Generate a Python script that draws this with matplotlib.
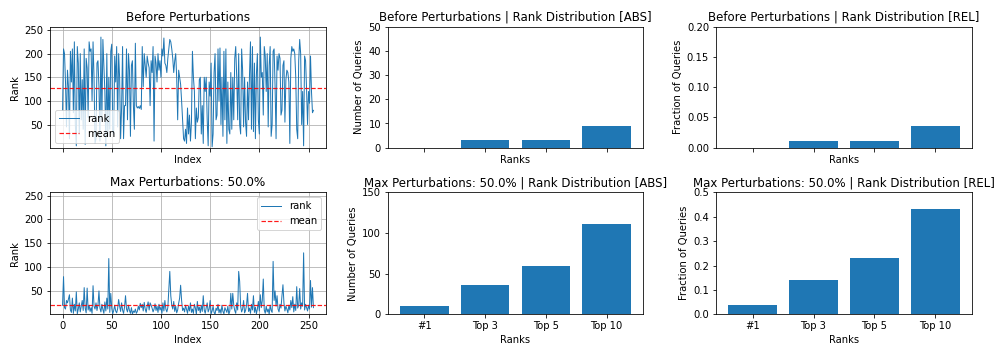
import matplotlib
matplotlib.use("Agg")
import matplotlib.pyplot as plt
import numpy as np

# ---------------- data ----------------
rank_before = [
    80, 210, 200, 140, 45, 165, 130, 20, 205, 140, 210, 75, 225, 50, 5, 215,
    180, 30, 200, 60, 145, 40, 210, 8, 190, 170, 65, 225, 205, 210, 100, 225,
    150, 10, 20, 180, 185, 130, 15, 235, 60, 230, 175, 120, 5, 200, 25, 150,
    40, 205, 220, 35, 30, 195, 140, 215, 45, 200, 150, 20, 85, 215, 20, 90,
    90, 210, 60, 200, 165, 25, 175, 185, 90, 40, 222, 90, 85, 88, 84, 90,
    82, 215, 130, 200, 175, 150, 195, 180, 170, 90, 185, 160, 215, 15, 195, 180,
    140, 200, 165, 185, 150, 210, 195, 233, 180, 175, 160, 190, 210, 230, 225, 210,
    190, 160, 185, 200, 150, 60, 165, 150, 135, 100, 60, 20, 15, 40, 10, 85,
    30, 70, 15, 55, 205, 150, 120, 20, 85, 55, 65, 145, 150, 30, 90, 10,
    150, 120, 150, 60, 5, 140, 110, 180, 3, 30, 160, 200, 60, 70, 210, 100,
    212, 50, 150, 25, 205, 60, 210, 10, 140, 40, 30, 160, 40, 150, 60, 190,
    215, 150, 60, 200, 50, 30, 210, 165, 45, 150, 55, 25, 140, 60, 155, 225,
    40, 215, 35, 180, 20, 155, 200, 60, 30, 235, 150, 160, 70, 215, 195, 120,
    200, 45, 175, 215, 25, 50, 205, 210, 130, 20, 195, 165, 200, 190, 70, 80,
    175, 185, 55, 145, 165, 160, 140, 10, 190, 215, 205, 210, 200, 150, 40, 20,
    185, 230, 200, 50, 120, 5, 195, 185, 125, 50, 120, 95, 195, 120, 75, 80,
]

rank_after = [
    20, 80, 15, 12, 30, 25, 33, 42, 10, 5, 35, 3, 22, 8, 48, 2,
    12, 25, 6, 18, 30, 9, 57, 14, 4, 56, 10, 20, 7, 15, 3, 61,
    18, 12, 25, 9, 20, 50, 14, 6, 22, 11, 3, 27, 8, 35, 12, 118,
    5, 45, 14, 2, 9, 20, 8, 4, 13, 32, 18, 7, 25, 10, 3, 16,
    40, 12, 6, 20, 9, 3, 15, 1, 8, 5, 12, 3, 7, 18, 10, 24,
    15, 22, 8, 26, 12, 5, 18, 27, 10, 25, 20, 14, 6, 12, 23, 9,
    18, 5, 22, 10, 16, 3, 25, 8, 30, 12, 6, 15, 55, 91, 40, 20,
    12, 28, 7, 18, 4, 10, 24, 35, 62, 30, 9, 14, 6, 20, 11, 3,
    18, 8, 25, 5, 12, 3, 22, 14, 1, 28, 9, 16, 4, 20, 7, 40,
    10, 3, 15, 25, 6, 12, 30, 2, 8, 18, 5, 1, 14, 9, 22, 4,
    12, 3, 20, 7, 2, 15, 10, 5, 18, 1, 8, 45, 12, 45, 20, 9,
    3, 25, 10, 91, 70, 18, 6, 12, 30, 4, 9, 20, 45, 7, 14, 3,
    22, 10, 40, 5, 16, 2, 12, 28, 8, 42, 15, 30, 75, 10, 3, 18,
    6, 12, 1, 20, 9, 5, 112, 30, 50, 18, 40, 12, 6, 22, 14, 40,
    63, 25, 8, 18, 12, 4, 20, 10, 30, 15, 38, 6, 22, 9, 59, 14,
    20, 55, 12, 25, 18, 130, 10, 22, 15, 8, 20, 12, 72, 16, 57, 15,
]

categories = ["#1", "Top 3", "Top 5", "Top 10"]
abs_before = [0, 3, 3, 9]
rel_before = [0.0, 0.0117, 0.0117, 0.0352]
abs_after = [10, 36, 59, 111]
rel_after = [0.0391, 0.1406, 0.2305, 0.4336]

# ---------------- figure ----------------
W, H = 997, 356
fig = plt.figure(figsize=(W / 72, H / 72), dpi=72)

def px_axes(x0, x1, y0, y1):
    return fig.add_axes([x0 / W, 1 - y1 / H, (x1 - x0) / W, (y1 - y0) / H])

cols = [(50, 326), (388, 643), (716, 972)]
rows = [(26.7, 147.7), (192.3, 314.3)]

ax_l0 = px_axes(*cols[0], *rows[0])
ax_l1 = px_axes(*cols[0], *rows[1])
ax_m0 = px_axes(*cols[1], *rows[0])
ax_m1 = px_axes(*cols[1], *rows[1])
ax_r0 = px_axes(*cols[2], *rows[0])
ax_r1 = px_axes(*cols[2], *rows[1])

# line plots
for ax, data, title, loc in [
    (ax_l0, rank_before, "Before Perturbations", "lower left"),
    (ax_l1, rank_after, "Max Perturbations: 50.0%", "upper right"),
]:
    idx = np.arange(len(data))
    ax.plot(idx, data, color="C0", lw=1.0, label="rank")
    ax.axhline(np.mean(data), color="red", ls="--", lw=1.2, alpha=0.9, label="mean")
    ax.set_ylim(1, 257)
    ax.set_xlim(-12.75, 267.75)
    ax.set_xticks([0, 50, 100, 150, 200, 250])
    ax.set_yticks([50, 100, 150, 200, 250])
    ax.grid(True, color="#b0b0b0", lw=0.8)
    ax.set_axisbelow(True)
    ax.set_title(title)
    ax.set_ylabel("Rank")
    ax.set_xlabel("Index")
    ax.legend(loc=loc)
ax_l0.tick_params(labelbottom=False)

# bar plots
x = np.arange(len(categories))
bar_specs = [
    (ax_m0, abs_before, "Before Perturbations | Rank Distribution [ABS]", "Number of Queries", (0, 50), [0, 10, 20, 30, 40, 50], None),
    (ax_r0, rel_before, "Before Perturbations | Rank Distribution [REL]", "Fraction of Queries", (0, 0.2), [0, 0.05, 0.10, 0.15, 0.20], "%.2f"),
    (ax_m1, abs_after, "Max Perturbations: 50.0% | Rank Distribution [ABS]", "Number of Queries", (0, 150), [0, 50, 100, 150], None),
    (ax_r1, rel_after, "Max Perturbations: 50.0% | Rank Distribution [REL]", "Fraction of Queries", (0, 0.5), [0, 0.1, 0.2, 0.3, 0.4, 0.5], "%.1f"),
]
for ax, vals, title, ylabel, ylim, yt, fmt in bar_specs:
    ax.bar(x, vals, color="C0", width=0.8)
    ax.set_xlim(-0.6, 3.6)
    ax.set_ylim(*ylim)
    ax.set_yticks(yt)
    if fmt:
        ax.set_yticklabels([fmt % v for v in yt])
    ax.set_xticks(x)
    ax.set_xticklabels(categories)
    ax.set_title(title, fontsize=11.7)
    ax.set_ylabel(ylabel)
    ax.set_xlabel("Ranks")
ax_m0.tick_params(labelbottom=False)
ax_r0.tick_params(labelbottom=False)

fig.savefig("out.png", dpi=72)
